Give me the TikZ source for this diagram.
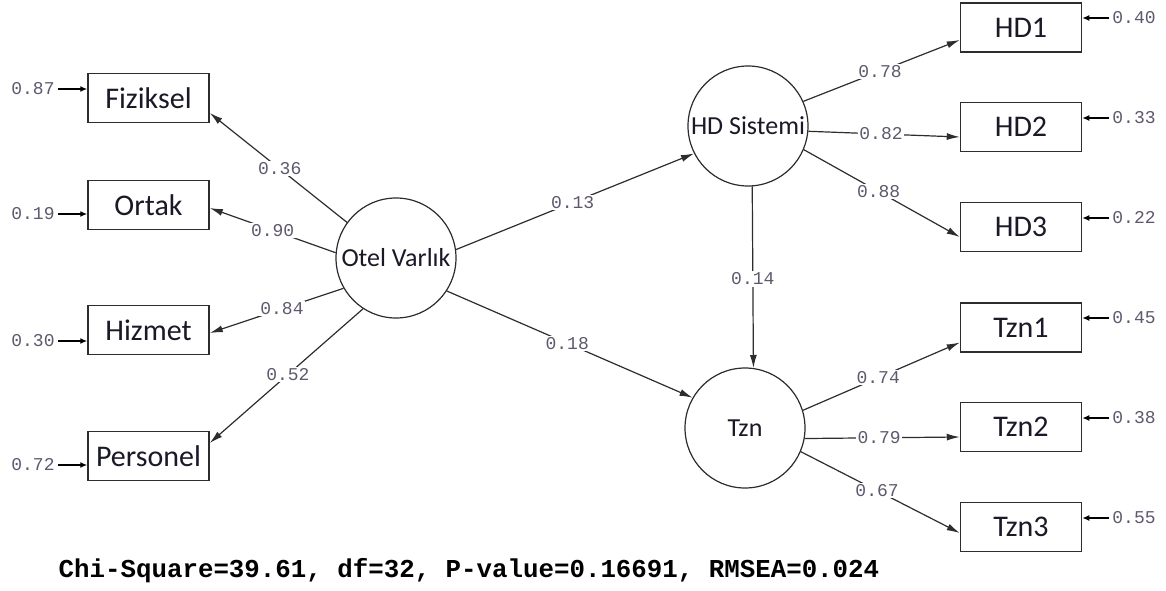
\documentclass[tikz,border=0pt]{standalone}
\usepackage{fontspec}
\setmainfont{Carlito}
\newfontfamily\numfont{Liberation Mono}
\usetikzlibrary{arrows.meta}
\definecolor{numcol}{RGB}{95,88,110}
\definecolor{txtcol}{RGB}{25,25,40}
\definecolor{linecol}{RGB}{45,45,45}
\begin{document}
\begin{tikzpicture}[x=1pt,y=-1pt,
  obs/.style={draw=linecol, line width=1.5pt, minimum width=121pt, minimum height=49pt, inner sep=0pt, font=\fontsize{30}{32}\selectfont, text=txtcol},
  lat/.style={draw=linecol, circle, line width=1.2pt, minimum size=120pt, inner sep=0pt, font=\fontsize{26}{28}\selectfont, text=txtcol},
  lbl/.style={fill=white, inner sep=1.5pt, font=\numfont\fontsize{18}{18}\selectfont, text=numcol},
  elbl/.style={inner sep=0pt, font=\numfont\fontsize{18}{18}\selectfont, text=numcol},
  pth/.style={draw=linecol, line width=1.2pt, -{Latex[length=13pt,width=7pt]}},
  err/.style={draw=black, line width=2pt, shorten <=3pt, -{Latex[length=7pt,width=6pt]}}]
\useasboundingbox (0,0) rectangle (1166,591);
\fill[white] (0,0) rectangle (1166,591);

% left observed
\node[obs] (fiz) at (148.5,98) {Fiziksel};
\node[obs] (ort) at (148.5,205) {Ortak};
\node[obs] (hiz) at (148.5,330) {Hizmet};
\node[obs] (per) at (148.5,456) {Personel};

% latent
\node[lat] (ov) at (396,258) {Otel Varlık};
\node[lat] (hd) at (748,126) {HD Sistemi};
\node[lat] (tz) at (745,428) {Tzn};

% right observed
\node[obs] (hd1) at (1021,27.5) {HD1};
\node[obs] (hd2) at (1021,127) {HD2};
\node[obs] (hd3) at (1021,227) {HD3};
\node[obs] (tz1) at (1021,327.5) {Tzn1};
\node[obs] (tz2) at (1021,427) {Tzn2};
\node[obs] (tz3) at (1021,527) {Tzn3};

% error terms left
\node[elbl] (e1) at (33,89) {0.87};
\node[elbl] (e2) at (33,214) {0.19};
\node[elbl] (e3) at (33,341) {0.30};
\node[elbl] (e4) at (33,465) {0.72};
\draw[err] (e1.east) -- (e1.east -| fiz.west);
\draw[err] (e2.east) -- (e2.east -| ort.west);
\draw[err] (e3.east) -- (e3.east -| hiz.west);
\draw[err] (e4.east) -- (e4.east -| per.west);

% error terms right
\node[elbl] (r1) at (1134,18) {0.40};
\node[elbl] (r2) at (1134,118) {0.33};
\node[elbl] (r3) at (1134,218) {0.22};
\node[elbl] (r4) at (1134,318) {0.45};
\node[elbl] (r5) at (1134,418) {0.38};
\node[elbl] (r6) at (1134,518) {0.55};
\draw[err] (r1.west) -- (r1.west -| hd1.east);
\draw[err] (r2.west) -- (r2.west -| hd2.east);
\draw[err] (r3.west) -- (r3.west -| hd3.east);
\draw[err] (r4.west) -- (r4.west -| tz1.east);
\draw[err] (r5.west) -- (r5.west -| tz2.east);
\draw[err] (r6.west) -- (r6.west -| tz3.east);

% loadings Otel Varlik
\draw[pth] (ov.144) -- node[lbl,pos=0.49]{0.36} ([yshift=-15pt]fiz.east);
\draw[pth] (ov.175) -- node[lbl,pos=0.5]{0.90} ([yshift=-3pt]ort.east);
\draw[pth] (ov.210) -- node[lbl,pos=0.46]{0.84} ([yshift=-3pt]hiz.east);
\draw[pth] (ov.237) -- node[lbl,pos=0.49]{0.52} ([yshift=13pt]per.east);

% structural paths
\draw[pth] (ov.8) -- node[lbl,pos=0.49]{0.13} (hd.207);
\draw[pth] (ov.327) -- node[lbl,pos=0.49]{0.18} (tz.150);
\draw[pth] (hd.274) -- node[lbl,pos=0.51]{0.14} (tz.82);

% HD loadings
\draw[pth] (hd.24) -- node[lbl,pos=0.49]{0.78} ([yshift=-12.5pt]hd1.west);
\draw[pth] (hd.355) -- node[lbl,pos=0.48]{0.82} ([yshift=-10pt]hd2.west);
\draw[pth] (hd.337) -- node[lbl,pos=0.48]{0.88} ([yshift=-10pt]hd3.west);

% Tzn loadings
\draw[pth] (tz.17) -- node[lbl,pos=0.48]{0.74} ([yshift=-15pt]tz1.west);
\draw[pth] (tz.350) -- node[lbl,pos=0.48]{0.79} ([yshift=-10pt]tz2.west);
\draw[pth] (tz.337) -- node[lbl,pos=0.48]{0.67} ([yshift=-6pt]tz3.west);

% fit statistics
\node[font=\numfont\bfseries\fontsize{25.8}{26}\selectfont, text=black, inner sep=0pt] (fit) at (469,571) {Chi-Square=39.61, df=32, P-value=0.16691, RMSEA=0.024};
\end{tikzpicture}
\end{document}
